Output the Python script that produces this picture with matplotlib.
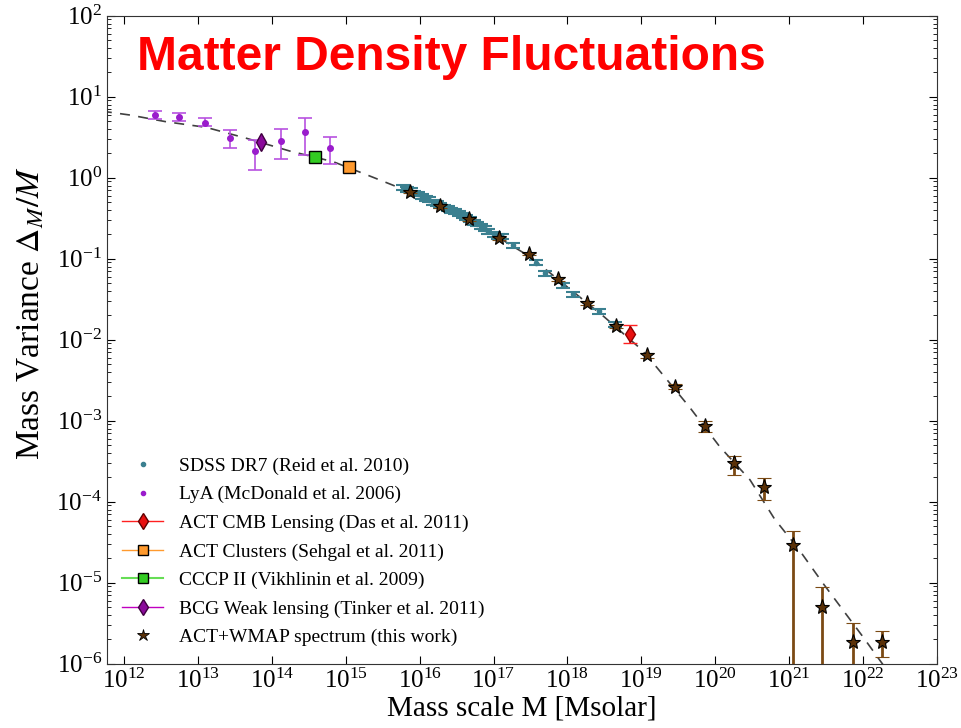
import numpy as np
import matplotlib
matplotlib.use("Agg")
import matplotlib.pyplot as plt
from matplotlib.lines import Line2D

# dashed model curve (log10 M, log10 sigma)
curve_logm = [11.70, 12.08, 12.57, 13.11, 13.66, 14.24, 14.83, 15.37, 15.69, 16.00,
              16.50, 17.00, 17.50, 18.00, 18.50, 19.00, 19.18, 19.65, 20.06, 20.47,
              20.80, 21.14, 21.46, 21.73, 22.00, 22.30]
curve_logs = [0.822, 0.774, 0.691, 0.622, 0.486, 0.330, 0.198, 0.005, -0.111, -0.23,
              -0.43, -0.70, -0.98, -1.35, -1.72, -2.12, -2.31, -2.83, -3.32, -3.73,
              -4.21, -4.60, -5.01, -5.34, -5.67, -6.05]

# SDSS DR7
sdss_logm = [15.78, 15.83, 15.88, 15.93, 15.98, 16.03, 16.08, 16.13, 16.18, 16.23,
             16.28, 16.33, 16.38, 16.43, 16.48, 16.53, 16.58, 16.63, 16.68, 16.73,
             16.78, 16.83, 16.88, 16.93, 17.00, 17.06, 17.12, 17.26, 17.58, 17.69,
             17.94, 18.08, 18.43, 18.64]
sdss_logs = [-0.12, -0.14, -0.16, -0.19, -0.20, -0.23, -0.25, -0.27, -0.30, -0.32,
             -0.34, -0.36, -0.38, -0.40, -0.42, -0.44, -0.47, -0.49, -0.52, -0.55,
             -0.57, -0.60, -0.63, -0.66, -0.70, -0.72, -0.73, -0.83, -1.05, -1.18,
             -1.33, -1.44, -1.65, -1.81]

# LyA (McDonald et al. 2006)
lya_logm = [12.42, 12.75, 13.10, 13.44, 13.77, 14.12, 14.45, 14.79]
lya_logs = [0.778, 0.753, 0.679, 0.486, 0.330, 0.457, 0.568, 0.363]
lya_hi = [0.823, 0.802, 0.737, 0.589, 0.465, 0.601, 0.741, 0.506]
lya_lo = [0.728, 0.700, 0.638, 0.367, 0.095, 0.231, 0.280, 0.169]

# single-point probes
cmb_logm, cmb_logs, cmb_hi, cmb_lo = 18.84, -1.930, -1.822, -2.044
clus_logm, clus_logs = 15.04, 0.136
cccp_logm, cccp_logs = 14.58, 0.259
bcg_logm, bcg_logs = 13.86, 0.444

# ACT+WMAP spectrum
star_logm = [15.87, 16.27, 16.67, 17.07, 17.48, 17.87, 18.26, 18.66, 19.07, 19.46,
             19.86, 20.26, 20.66, 21.05, 21.45, 21.86, 22.26]
star_logs = [-0.177, -0.349, -0.514, -0.748, -0.946, -1.254, -1.543, -1.831, -2.189, -2.580,
             -3.065, -3.526, -3.822, -4.535, -5.296, -5.728, -5.728]
star_hi = [-0.16, -0.33, -0.50, -0.73, -0.93, -1.23, -1.52, -1.80, -2.16, -2.55,
           -3.004, -3.432, -3.704, -4.358, -5.049, -5.501, -5.596]
star_lo = [-0.19, -0.37, -0.53, -0.77, -0.96, -1.28, -1.57, -1.86, -2.22, -2.61,
           -3.136, -3.667, -3.979, -9.0, -9.0, -9.0, -5.914]

plt.rcParams['font.family'] = ['Liberation Serif', 'DejaVu Serif']
plt.rcParams['mathtext.fontset'] = 'stix'

fig = plt.figure(figsize=(9.61, 7.28), dpi=100)
ax = fig.add_axes([0.111, 0.0883, 0.864, 0.8901])
ax.set_xscale('log')
ax.set_yscale('log')


def p(v):
    return 10.0 ** np.asarray(v, dtype=float)


def err(c, hi, lo):
    c, hi, lo = p(c), p(hi), p(lo)
    return np.vstack([c - lo, hi - c])


ax.plot(p(curve_logm), p(curve_logs), ls=(0, (6, 5)), color='#404040', lw=1.2, zorder=2)

sdss_y = p(sdss_logs)
ax.errorbar(p(sdss_logm), sdss_y, yerr=[sdss_y * 0.07, sdss_y * 0.07], fmt='o', ms=3,
            color='#3b8090', ecolor='#3b8090', elinewidth=1.5, capsize=5, capthick=1.5, zorder=3)

ax.errorbar(p(lya_logm), p(lya_logs), yerr=err(lya_logs, lya_hi, lya_lo), fmt='o', ms=4,
            color='#9a1ccc', ecolor='#b852e0', elinewidth=1.2, capsize=5, capthick=1.2, zorder=3)

ax.errorbar(p(cmb_logm), p(cmb_logs), yerr=err([cmb_logs], [cmb_hi], [cmb_lo]), fmt='d', ms=8,
            mfc='#e81010', mec='#900000', ecolor='#ff2020', elinewidth=1.2, capsize=5, zorder=4)
ax.plot(p(clus_logm), p(clus_logs), 's', ms=9, mfc='#ff9a2e', mec='black', mew=1, zorder=4)
ax.plot(p(cccp_logm), p(cccp_logs), 's', ms=9, mfc='#33cc22', mec='black', mew=1, zorder=4)
ax.plot(p(bcg_logm), p(bcg_logs), 'd', ms=9, mfc='#8a0a9a', mec='#400040', mew=1, zorder=4)

ax.errorbar(p(star_logm), p(star_logs), yerr=err(star_logs, star_hi, star_lo), fmt='*', ms=11,
            mfc='#5a3108', mec='black', mew=0.8, ecolor='#7b4a14', elinewidth=2, capsize=5,
            capthick=1.3, zorder=5)

ax.set_xlim(10 ** 11.765, 1e23)
ax.set_ylim(1e-6, 1e2)
ax.set_xticks(p(np.arange(12, 24)))
ax.set_yticks(p(np.arange(-6, 3)))
ax.tick_params(which='both', direction='in', top=True, right=True, labelsize=18)
ax.tick_params(which='major', length=6)
ax.tick_params(which='minor', length=3)
for s in ax.spines.values():
    s.set_color('#333333')

ax.set_xlabel('Mass scale M [Msolar]', fontsize=21, labelpad=2)
ax.set_ylabel(r'Mass Variance $\Delta_M/M$', fontsize=24)
ax.yaxis.set_label_coords(-0.072, 0.541)

ax.text(0.036, 0.935, 'Matter Density Fluctuations', transform=ax.transAxes, color='red',
        fontsize=34.5, fontweight='bold', family='Liberation Sans', va='center', ha='left')

handles = [
    Line2D([], [], ls='none', marker='o', ms=3, color='#3b8090'),
    Line2D([], [], ls='none', marker='o', ms=3, color='#9a1ccc'),
    Line2D([], [], color='#ff2020', lw=1, marker='d', ms=8, mfc='#e81010', mec='#600000'),
    Line2D([], [], color='#ff9a2e', lw=1, marker='s', ms=7, mfc='#ff9a2e', mec='black'),
    Line2D([], [], color='#66dd55', lw=1.5, marker='s', ms=7, mfc='#33cc22', mec='black'),
    Line2D([], [], color='#c000c0', lw=1, marker='d', ms=8, mfc='#8a0a9a', mec='#400040'),
    Line2D([], [], ls='none', marker='*', ms=9, mfc='#5a3108', mec='black', mew=0.6),
]
labels = ['SDSS DR7 (Reid et al. 2010)', 'LyA (McDonald et al. 2006)',
          'ACT CMB Lensing (Das et al. 2011)', 'ACT Clusters (Sehgal et al. 2011)',
          'CCCP II (Vikhlinin et al. 2009)', 'BCG Weak lensing (Tinker et al. 2011)',
          'ACT+WMAP spectrum (this work)']
ax.legend(handles, labels, loc='lower left', bbox_to_anchor=(0.019, 0.027), frameon=False,
          fontsize=14, handlelength=2.1, handletextpad=0.8, labelspacing=0.56,
          borderpad=0, borderaxespad=0)

fig.savefig('out.png', dpi=100)
